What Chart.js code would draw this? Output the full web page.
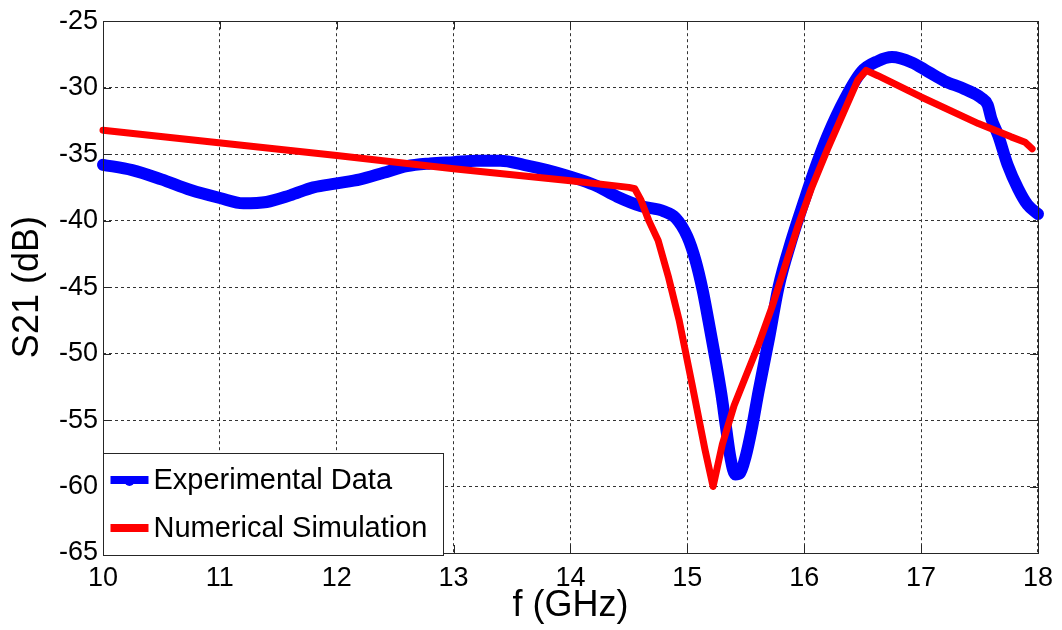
<!DOCTYPE html>
<html>
<head>
<meta charset="utf-8">
<title>S21 vs frequency</title>
<script src="https://cdn.jsdelivr.net/npm/chart.js@4.4.0/dist/chart.umd.min.js"></script>
<style>
  html, body { margin: 0; padding: 0; background: #fff; }
  canvas { display: block; }
</style>
</head>
<body>
<canvas id="chart" width="1062" height="630"></canvas>
<script>
// measured transmission
const expFreq = [10.0, 10.25, 10.5, 10.75, 11.0, 11.2, 11.4, 11.6, 11.8, 12.0, 12.2, 12.4, 12.6, 12.8,
  13.0, 13.2, 13.4, 13.6, 13.8, 14.0, 14.2, 14.4, 14.6, 14.8, 14.9, 15.0, 15.07, 15.13, 15.18, 15.24,
  15.29, 15.33, 15.37, 15.41, 15.45, 15.50, 15.55, 15.61, 15.70, 15.78, 15.89, 16.0, 16.1, 16.2,
  16.35, 16.49, 16.63, 16.75, 16.92, 17.06, 17.2, 17.37, 17.52, 17.57, 17.6, 17.66, 17.74, 17.83,
  17.91, 18.0];
const expS21 = [-35.8, -36.2, -36.9, -37.7, -38.3, -38.7, -38.6, -38.1, -37.5, -37.2, -36.9, -36.4, -35.9, -35.7,
  -35.6, -35.5, -35.5, -35.8, -36.2, -36.7, -37.3, -38.2, -38.9, -39.3, -39.8, -41.2, -43.0, -45.2, -47.5, -50.4,
  -53.0, -55.5, -57.9, -59.1, -59.0, -57.7, -55.7, -52.8, -48.8, -45.0, -41.5, -38.5, -35.9, -33.6,
  -30.8, -28.8, -28.0, -27.7, -28.1, -28.8, -29.5, -30.1, -30.8, -31.3, -32.3, -33.6, -35.8, -37.6,
  -38.8, -39.5];

// simulated transmission
const simFreq = [10.0, 12.0, 13.0, 14.0, 14.5, 14.55, 14.6, 14.67, 14.75, 14.84, 14.93, 15.04, 15.15, 15.22,
  15.3, 15.4, 15.5, 15.61, 15.72, 15.84, 15.95, 16.06, 16.2, 16.35, 16.46, 16.53, 16.63, 17.0, 17.49,
  17.77, 17.89, 17.95];
const simS21 = [-33.2, -35.1, -36.1, -37.0, -37.5, -37.6, -38.4, -40.0, -41.5, -44.3, -47.5, -52.3, -57.2, -60.0,
  -56.8, -53.9, -51.7, -49.3, -46.6, -43.3, -40.3, -37.6, -34.6, -31.6, -29.4, -28.7, -29.1, -30.7, -32.7,
  -33.7, -34.1, -34.6];

const seriesNames = ['Experimental Data', 'Numerical Simulation'];
const xTicks = [10, 11, 12, 13, 14, 15, 16, 17, 18];
const yTicks = [-65, -60, -55, -50, -45, -40, -35, -30, -25];

const FONT = '"Liberation Sans", Arial, Helvetica, sans-serif';

const toPoints = (xs, ys) => xs.map((v, i) => ({ x: v, y: ys[i] }));

// box, inner tick marks and the legend, drawn MATLAB style
const framePlugin = {
  id: 'framePlugin',
  afterDraw(chart) {
    const { ctx, chartArea: a, scales: { x, y } } = chart;
    ctx.save();
    ctx.setLineDash([]);
    ctx.strokeStyle = '#262626';
    ctx.lineWidth = 1;
    ctx.strokeRect(Math.round(a.left) + 0.5, Math.round(a.top) + 0.5,
      Math.round(a.right - a.left), Math.round(a.bottom - a.top));

    ctx.beginPath();
    xTicks.forEach(v => {
      const px = Math.round(x.getPixelForValue(v)) + 0.5;
      ctx.moveTo(px, a.bottom); ctx.lineTo(px, a.bottom - 8);
      ctx.moveTo(px, a.top); ctx.lineTo(px, a.top + 8);
    });
    yTicks.forEach(v => {
      const py = Math.round(y.getPixelForValue(v)) + 0.5;
      ctx.moveTo(a.left, py); ctx.lineTo(a.left + 8, py);
      ctx.moveTo(a.right, py); ctx.lineTo(a.right - 8, py);
    });
    ctx.stroke();

    // legend box in the lower left corner
    const bx = Math.round(a.left) + 0.5, by = 453.5, bw = 340, bh = 102;
    ctx.fillStyle = '#fff';
    ctx.fillRect(bx, by, bw, bh);
    ctx.strokeStyle = '#262626';
    ctx.strokeRect(bx, by, bw, bh);

    ctx.font = '29px ' + FONT;
    ctx.textBaseline = 'middle';
    ctx.textAlign = 'left';
    chart.data.datasets.forEach((ds, i) => {
      const ly = 480 + i * 48;
      ctx.strokeStyle = ds.borderColor;
      ctx.lineWidth = 8;
      ctx.lineCap = 'butt';
      ctx.beginPath();
      ctx.moveTo(bx + 7, ly);
      ctx.lineTo(bx + 45, ly);
      ctx.stroke();
      if (i === 0) {
        ctx.fillStyle = ds.borderColor;
        ctx.beginPath();
        ctx.arc(bx + 26, ly + 1, 5, 0, Math.PI * 2);
        ctx.fill();
      }
      ctx.fillStyle = '#000';
      ctx.fillText(ds.label, bx + 50, ly + 1);
    });
    ctx.restore();
  }
};

const ctx = document.getElementById('chart').getContext('2d');
const myChart = new Chart(ctx, {
  type: 'line',
  data: {
    datasets: [
      {
        label: seriesNames[0],
        data: toPoints(expFreq, expS21),
        borderColor: '#0000ff',
        borderWidth: 12,
        borderCapStyle: 'round',
        borderJoinStyle: 'round',
        cubicInterpolationMode: 'monotone',
        pointRadius: 0,
        clip: 12,
        order: 2
      },
      {
        label: seriesNames[1],
        data: toPoints(simFreq, simS21),
        borderColor: '#ff0000',
        borderWidth: 7,
        borderCapStyle: 'round',
        borderJoinStyle: 'round',
        tension: 0,
        pointRadius: 0,
        clip: 8,
        order: 1
      }
    ]
  },
  options: {
    responsive: false,
    animation: false,
    devicePixelRatio: 1,
    layout: { padding: { top: 19, right: 22, bottom: 0, left: 0 } },
    plugins: {
      legend: { display: false },
      tooltip: { enabled: false }
    },
    scales: {
      x: {
        type: 'linear',
        min: 10,
        max: 18,
        afterBuildTicks: scale => { scale.ticks = xTicks.map(v => ({ value: v })); },
        afterFit: scale => { scale.height = 77; },
        grid: { color: '#333', lineWidth: 1, drawTicks: false },
        border: { display: false, dash: [3, 3] },
        ticks: { color: '#000', padding: 9, maxRotation: 0, font: { family: FONT, size: 27 } },
        title: {
          display: true,
          text: 'f (GHz)',
          color: '#000',
          padding: { top: 0, bottom: 2 },
          font: { family: FONT, size: 36 }
        }
      },
      y: {
        type: 'linear',
        min: -65,
        max: -25,
        afterBuildTicks: scale => { scale.ticks = yTicks.map(v => ({ value: v })); },
        afterFit: scale => { scale.width = 103; },
        grid: { color: '#333', lineWidth: 1, drawTicks: false },
        border: { display: false, dash: [3, 3] },
        ticks: { color: '#000', padding: 5, font: { family: FONT, size: 27 } },
        title: {
          display: true,
          text: 'S21 (dB)',
          color: '#000',
          padding: { top: 6, bottom: 0 },
          font: { family: FONT, size: 36 }
        }
      }
    }
  },
  plugins: [framePlugin]
});
</script>
</body>
</html>
